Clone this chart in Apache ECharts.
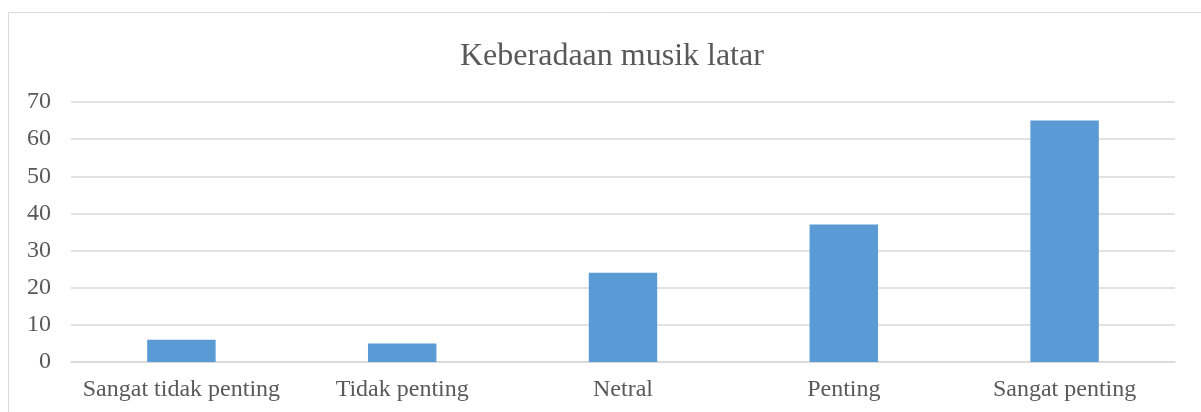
<!DOCTYPE html>
<html>
<head>
<meta charset="utf-8">
<script src="https://cdn.jsdelivr.net/npm/echarts@6/dist/echarts.min.js"></script>
<style>html,body{margin:0;padding:0;background:#fff;}#c{width:1201px;height:412px;}</style>
</head>
<body>
<div id="c"></div>
<script>
const title = 'Keberadaan musik latar';
const categories = ['Sangat tidak penting', 'Tidak penting', 'Netral', 'Penting', 'Sangat penting'];
const values = [6, 5, 24, 37, 65];
const yTicks = [0, 10, 20, 30, 40, 50, 60, 70];

const chart = echarts.init(document.getElementById('c'), null, {renderer: 'canvas'});
const font = '"Liberation Serif", "Times New Roman", serif';
chart.setOption({
  animation: false,
  backgroundColor: '#fff',
  graphic: [{
    type: 'rect', silent: true, z: -1,
    shape: {x: 8.5, y: 12.5, width: 1400, height: 600},
    style: {fill: 'none', stroke: '#d9d9d9', lineWidth: 1}
  }],
  title: {
    text: title, left: 455, top: 36,
    textStyle: {fontFamily: font, fontSize: 32, fontWeight: 'normal', color: '#595959'}
  },
  grid: {left: 71, right: 26, top: 102, bottom: 50, containLabel: false},
  xAxis: {
    type: 'category', data: categories,
    axisLine: {show: true, lineStyle: {color: '#d9d9d9', width: 1.5}},
    axisTick: {show: false},
    axisLabel: {fontFamily: font, fontSize: 24, color: '#595959', margin: 16, interval: 0, hideOverlap: false}
  },
  yAxis: {
    type: 'value', min: yTicks[0], max: yTicks[yTicks.length - 1], interval: 10,
    axisLine: {show: false}, axisTick: {show: false},
    splitLine: {lineStyle: {color: '#d9d9d9', width: 1.5}},
    axisLabel: {fontFamily: font, fontSize: 24, color: '#595959', margin: 20}
  },
  series: [{
    type: 'bar', data: values, barWidth: '31%',
    itemStyle: {color: '#5b9bd5'}
  }]
});
</script>
</body>
</html>
